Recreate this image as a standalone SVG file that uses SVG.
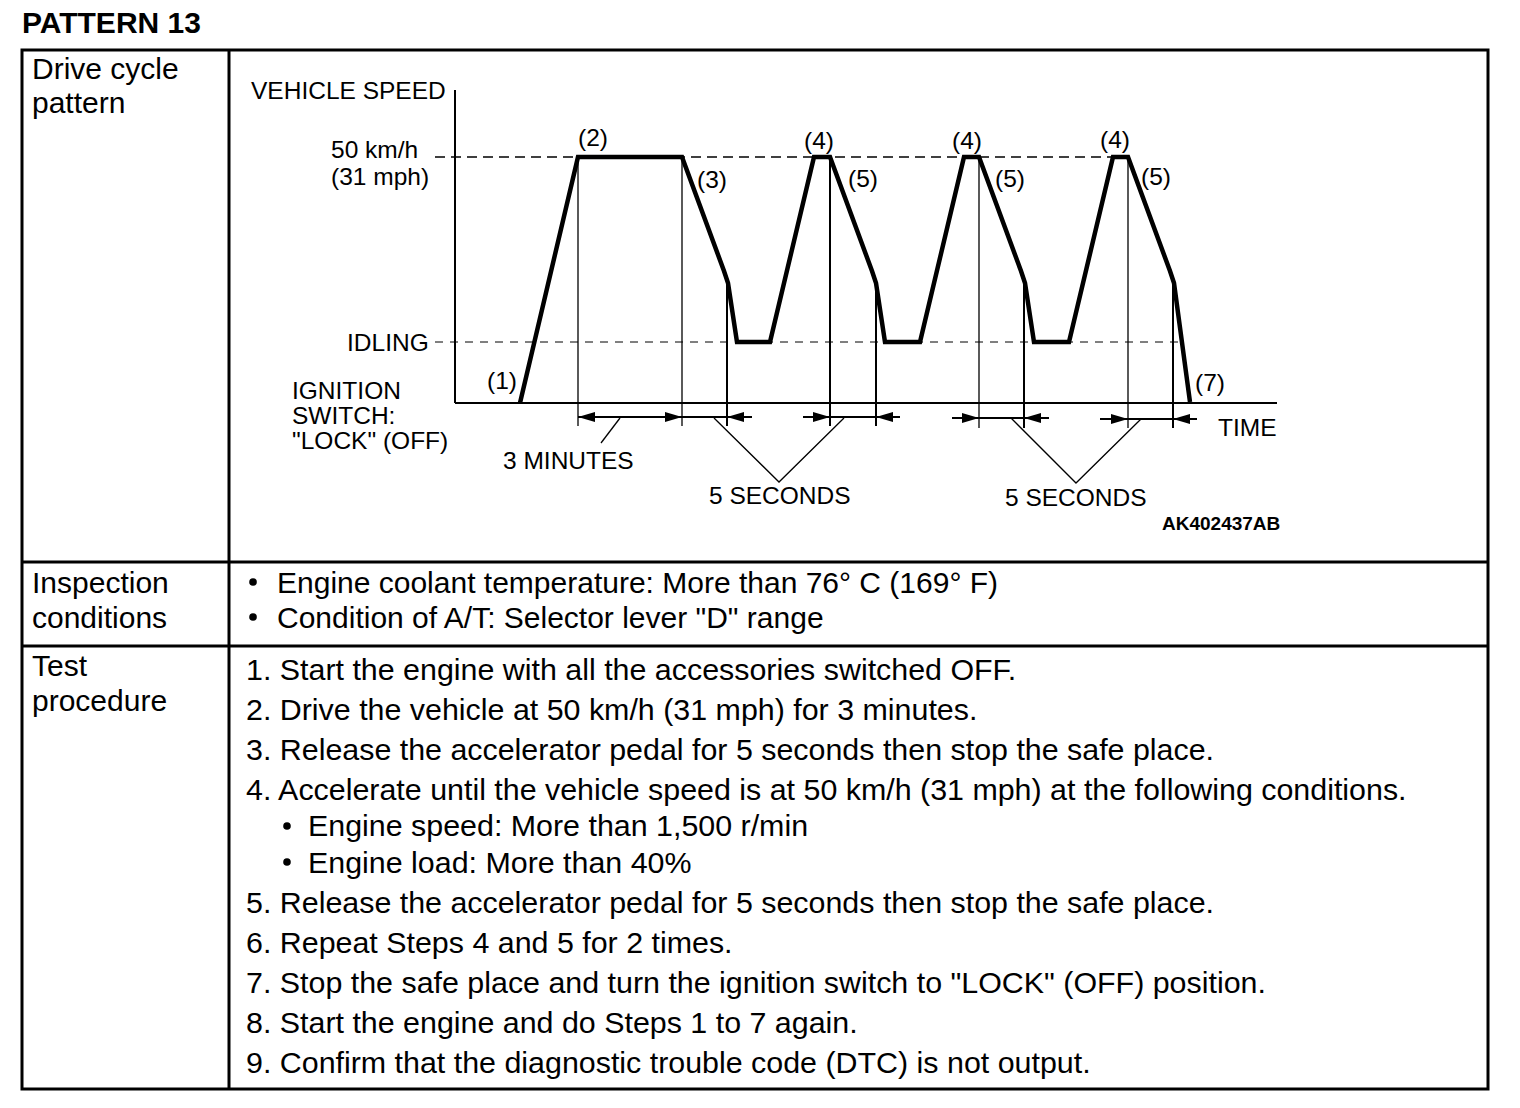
<svg xmlns="http://www.w3.org/2000/svg" width="1520" height="1108" viewBox="0 0 1520 1108">
<defs>
<style>
text{font-family:"Liberation Sans",Arial,sans-serif;fill:#000}
.t{font-size:30px}
.s{font-size:30.4px}
.c{font-size:24.5px}
.b{font-weight:bold}
.border{fill:none;stroke:#000;stroke-width:3}
.ax{fill:none;stroke:#000;stroke-width:2}
.thin{fill:none;stroke:#000;stroke-width:1.3}
.med{fill:none;stroke:#000;stroke-width:2}
.prof{fill:none;stroke:#000;stroke-width:4.5;stroke-linejoin:miter}
.dash1{fill:none;stroke:#000;stroke-width:1.5;stroke-dasharray:10 6}
.dash2{fill:none;stroke:#000;stroke-width:1;stroke-dasharray:8 7}
</style>
<marker id="ah" markerUnits="userSpaceOnUse" markerWidth="17" markerHeight="10" refX="17" refY="5" orient="auto-start-reverse"><path d="M0,0 L17,5 L0,10 z" fill="#000"/></marker>
</defs>
<rect width="1520" height="1108" fill="#fff"/>
<text class="t b" x="22" y="33">PATTERN 13</text>
<g id="table">
<rect class="border" x="22" y="50" width="1466" height="1039"/>
<line class="border" x1="229" y1="50" x2="229" y2="1089"/>
<line class="border" x1="22" y1="562" x2="1488" y2="562"/>
<line class="border" x1="22" y1="646" x2="1488" y2="646"/>
</g>
<g id="row-labels">
<text class="t" x="32" y="79">Drive cycle</text>
<text class="t" x="32" y="113">pattern</text>
<text class="t" x="32" y="593">Inspection</text>
<text class="t" x="32" y="628">conditions</text>
<text class="t" x="32" y="676">Test</text>
<text class="t" x="32" y="711">procedure</text>
</g>
<g id="chart">
<g id="axes">
<line class="ax" x1="455" y1="90" x2="455" y2="403"/>
<line class="ax" x1="455" y1="403" x2="1277" y2="403"/>
<line class="dash1" x1="435" y1="157" x2="1113" y2="157"/>
<line class="dash2" x1="435" y1="342" x2="1182" y2="342"/>
</g>
<g id="extension-lines">
<line class="thin" x1="578" y1="157" x2="578" y2="426"/>
<line class="thin" x1="682" y1="157" x2="682" y2="426"/>
<line class="med" x1="727" y1="280" x2="727" y2="426"/>
<line class="med" x1="830" y1="157" x2="830" y2="426"/>
<line class="med" x1="876" y1="280" x2="876" y2="426"/>
<line class="thin" x1="979" y1="157" x2="979" y2="428"/>
<line class="med" x1="1024" y1="280" x2="1024" y2="428"/>
<line class="thin" x1="1128" y1="157" x2="1128" y2="428"/>
<line class="med" x1="1173" y1="280" x2="1173" y2="428"/>
</g>
<polyline id="speed-profile" class="prof" points="520,403 578,157 682,157 724,271 728,283 737,342 770,342 814,157 830,157 872,271 876,283 885,342 920,342 964,157 979,157 1021,271 1025,283 1034,342 1069,342 1113,157 1128,157 1170,271 1174,283 1190,402"/>
<g id="connectors">
<line class="med" x1="578" y1="417" x2="682" y2="417" marker-start="url(#ah)" marker-end="url(#ah)"/>
<line class="med" x1="682" y1="417" x2="727" y2="417"/>
<line class="med" x1="752" y1="417" x2="727" y2="417" marker-end="url(#ah)"/>
<line class="med" x1="803" y1="417" x2="830" y2="417" marker-end="url(#ah)"/>
<line class="med" x1="830" y1="417" x2="876" y2="417"/>
<line class="med" x1="900" y1="417" x2="876" y2="417" marker-end="url(#ah)"/>
<line class="med" x1="952" y1="418" x2="979" y2="418" marker-end="url(#ah)"/>
<line class="med" x1="979" y1="418" x2="1024" y2="418"/>
<line class="med" x1="1049" y1="418" x2="1024" y2="418" marker-end="url(#ah)"/>
<line class="med" x1="1100" y1="419" x2="1128" y2="419" marker-end="url(#ah)"/>
<line class="med" x1="1128" y1="419" x2="1173" y2="419"/>
<line class="med" x1="1197" y1="419" x2="1173" y2="419" marker-end="url(#ah)"/>
<polyline class="thin" points="620,418 601,443"/>
<polyline class="thin" points="714,418 779,482 844,418"/>
<polyline class="thin" points="1011,418 1076,483 1141,419"/>
</g>
<g id="chart-labels">
<text class="c" x="251" y="99">VEHICLE SPEED</text>
<text class="c" x="331" y="158">50 km/h</text>
<text class="c" x="331" y="185">(31 mph)</text>
<text class="c" x="347" y="351">IDLING</text>
<text class="c" x="292" y="399">IGNITION</text>
<text class="c" x="292" y="424">SWITCH:</text>
<text class="c" x="292" y="449">"LOCK" (OFF)</text>
<text class="c" x="487" y="389">(1)</text>
<text class="c" x="578" y="146">(2)</text>
<text class="c" x="697" y="188">(3)</text>
<text class="c" x="804" y="149">(4)</text>
<text class="c" x="848" y="187">(5)</text>
<text class="c" x="952" y="149">(4)</text>
<text class="c" x="995" y="187">(5)</text>
<text class="c" x="1100" y="148">(4)</text>
<text class="c" x="1141" y="185">(5)</text>
<text class="c" x="1195" y="391">(7)</text>
<text class="c" x="503" y="469">3 MINUTES</text>
<text class="c" x="709" y="504">5 SECONDS</text>
<text class="c" x="1005" y="506">5 SECONDS</text>
<text class="c" x="1218" y="436">TIME</text>
<text class="b" x="1162" y="530" font-size="19">AK402437AB</text>
</g>
</g>
<g id="inspection-conditions">
<circle cx="253" cy="582" r="3.8"/>
<text class="t" x="277" y="593">Engine coolant temperature: More than 76° C (169° F)</text>
<circle cx="253" cy="617" r="3.8"/>
<text class="t" x="277" y="628">Condition of A/T: Selector lever "D" range</text>
</g>
<g id="test-procedure">
<text class="s" x="246" y="680">1. Start the engine with all the accessories switched OFF.</text>
<text class="s" x="246" y="720">2. Drive the vehicle at 50 km/h (31 mph) for 3 minutes.</text>
<text class="s" x="246" y="760">3. Release the accelerator pedal for 5 seconds then stop the safe place.</text>
<text class="s" x="246" y="800">4. Accelerate until the vehicle speed is at 50 km/h (31 mph) at the following conditions.</text>
<circle cx="287" cy="826" r="3.8"/>
<text class="s" x="308" y="836">Engine speed: More than 1,500 r/min</text>
<circle cx="287" cy="862" r="3.8"/>
<text class="s" x="308" y="873">Engine load: More than 40%</text>
<text class="s" x="246" y="913">5. Release the accelerator pedal for 5 seconds then stop the safe place.</text>
<text class="s" x="246" y="953">6. Repeat Steps 4 and 5 for 2 times.</text>
<text class="s" x="246" y="993">7. Stop the safe place and turn the ignition switch to "LOCK" (OFF) position.</text>
<text class="s" x="246" y="1033">8. Start the engine and do Steps 1 to 7 again.</text>
<text class="s" x="246" y="1073">9. Confirm that the diagnostic trouble code (DTC) is not output.</text>
</g>
</svg>
